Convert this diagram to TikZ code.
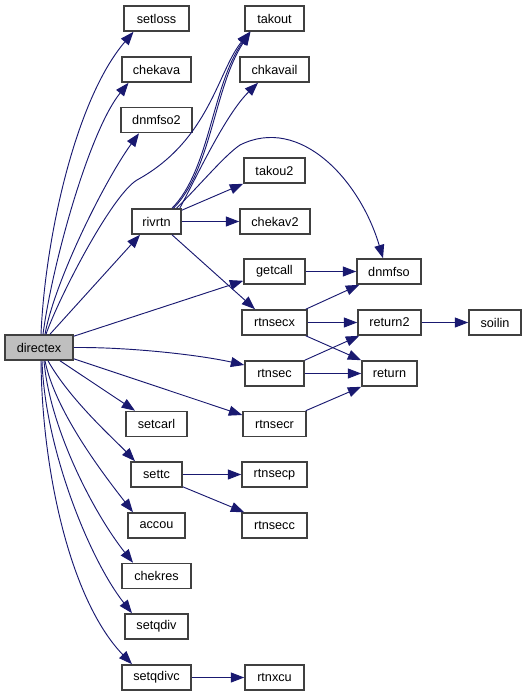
\documentclass[tikz,border=0pt]{standalone}
\usepackage{fontspec}
\setmainfont{Liberation Sans}
\usetikzlibrary{arrows.meta,calc}
\definecolor{navy}{HTML}{191970}
\definecolor{boxgray}{HTML}{BFBFBF}
\definecolor{boxline}{HTML}{404040}
\newcommand\mknode[6][]{\node[fnbox,minimum width=#5*0.75pt,#1] (#2) at (#3,#4) {#6};}
\begin{document}
\begin{tikzpicture}[x=0.75pt,y=-0.75pt,
  fnbox/.style={draw=boxline, line width=1.2pt, fill=white, minimum height=18.75pt, inner sep=0pt, font=\fontsize{9.5}{11}\selectfont},
  link/.style={draw=navy, line width=0.7pt, -{Triangle[length=10pt,width=7.5pt]}}]
\useasboundingbox (0,0) rectangle (527,696);
% nodes
\mknode[fill=boxgray]{directex}{39}{347.5}{68}{directex}
\mknode{setloss}{156.5}{18.5}{65}{setloss}
\mknode{chekava}{156.5}{69.5}{69}{chekava}
\mknode{dnmfso2}{156.5}{120}{71}{dnmfso2}
\mknode{rivrtn}{156.5}{221.5}{49}{rivrtn}
\mknode{setcarl}{156.5}{424}{61}{setcarl}
\mknode{settc}{156.5}{474.5}{51}{settc}
\mknode{accou}{156.5}{525.5}{57}{accou}
\mknode{chekres}{156.5}{576}{69}{chekres}
\mknode{setqdiv}{156.5}{626.5}{63}{setqdiv}
\mknode{setqdivc}{156.5}{677.5}{69}{setqdivc}
\mknode{takout}{274.5}{18.5}{59}{takout}
\mknode{chkavail}{274.5}{69.5}{69}{chkavail}
\mknode{takou2}{274.5}{170.5}{61}{takou2}
\mknode{chekav2}{275}{221.5}{70}{chekav2}
\mknode{getcall}{274.5}{271.5}{61}{getcall}
\mknode{rtnsecx}{274.5}{322.5}{65}{rtnsecx}
\mknode{rtnsec}{274.5}{373.5}{59}{rtnsec}
\mknode{rtnsecr}{274.5}{424}{63}{rtnsecr}
\mknode{rtnsecp}{274.5}{474.5}{65}{rtnsecp}
\mknode{rtnsecc}{274.5}{525.5}{65}{rtnsecc}
\mknode{rtnxcu}{274.5}{677.5}{59}{rtnxcu}
\mknode{dnmfso}{389}{271.5}{64}{dnmfso}
\mknode{return2}{389.5}{322.5}{63}{return2}
\mknode{return}{389.5}{373.5}{55}{return}
\mknode{soilin}{495}{322.5}{52}{soilin}
% directex edges
\draw[link] ($(directex.north)+(2,0)$) .. controls (45,240) and (75,100) .. ($(setloss.south)+(-23,0)$);
\draw[link] ($(directex.north)+(4,0)$) .. controls (53,260) and (90,130) .. ($(chekava.south)+(-28,0)$);
\draw[link] ($(directex.north)+(6,0)$) .. controls (55,280) and (105,180) .. ($(dnmfso2.south)+(-17.5,0)$);
\draw[link] ($(directex.north)+(7,0)$) .. controls (60,295) and (112,195) .. (137,180) .. controls (210,140) and (218,70) .. ($(takout.south)+(-24.5,0)$);
\draw[link] ($(directex.north)+(11,0)$) -- ($(rivrtn.south)+(-16.5,0)$);
\draw[link] ($(directex.north east)+(0,2)$) -- ($(getcall.south west)+(0,-4)$);
\draw[link] (directex.east) .. controls (130,347) and (200,355) .. ($(rtnsec.west)+(0,-8.5)$);
\draw[link] ($(directex.south east)+(0,-2)$) -- ($(rtnsecr.west)+(0,-9)$);
\draw[link] ($(directex.south)+(21,0)$) -- ($(setcarl.north)+(-21.5,0)$);
\draw[link] ($(directex.south)+(9,0)$) .. controls (70,400) and (115,440) .. ($(settc.north)+(-21.5,0)$);
\draw[link] ($(directex.south)+(6,0)$) .. controls (55,410) and (100,470) .. ($(accou.north)+(-23.5,0)$);
\draw[link] ($(directex.south)+(5,0)$) .. controls (50,430) and (95,515) .. ($(chekres.north)+(-23.5,0)$);
\draw[link] ($(directex.south)+(3,0)$) .. controls (45,450) and (90,560) .. ($(setqdiv.north)+(-24.5,0)$);
\draw[link] ($(directex.south)+(2,0)$) .. controls (42,470) and (70,600) .. ($(setqdivc.north)+(-24.5,0)$);
% rivrtn edges
\draw[link] ($(rivrtn.north)+(15.5,0)$) .. controls (210,170) and (212,85) .. ($(takout.south)+(-24.5,0)$);
\draw[link] ($(rivrtn.north)+(17,0)$) .. controls (212,169) and (214,87) .. ($(takout.south)+(-24,0)$);
\draw[link] ($(rivrtn.north east)+(-2,0)$) .. controls (195,180) and (225,115) .. ($(chkavail.south)+(-16.5,0)$);
\draw[link] ($(rivrtn.north)+(20,0)$) .. controls (200,185) and (225,155) .. (240,145) .. controls (300,115) and (360,180) .. ($(dnmfso.north)+(-6,0)$);
\draw[link] ($(rivrtn.north east)+(0,2)$) -- (takou2.south west);
\draw[link] (rivrtn.east) -- (chekav2.west);
\draw[link] ($(rivrtn.south)+(15.5,0)$) -- ($(rtnsecx.north)+(-19.5,0)$);
% right part
\draw[link] (getcall.east) -- (dnmfso.west);
\draw[link] ($(rtnsecx.north east)+(-2,0)$) -- ($(dnmfso.south west)+(3,0)$);
\draw[link] (rtnsecx.east) -- (return2.west);
\draw[link] ($(rtnsecx.south east)+(-2,0)$) -- (return.north west);
\draw[link] (rtnsec.north east) -- ($(return2.south west)+(2,0)$);
\draw[link] (rtnsec.east) -- (return.west);
\draw[link] ($(rtnsecr.north east)+(-1,0)$) -- (return.south west);
\draw[link] (return2.east) -- (soilin.west);
\draw[link] (settc.east) -- (rtnsecp.west);
\draw[link] ($(settc.south east)+(0,-1)$) -- ($(rtnsecc.north west)+(3,0)$);
\draw[link] (setqdivc.east) -- (rtnxcu.west);
\end{tikzpicture}
\end{document}
